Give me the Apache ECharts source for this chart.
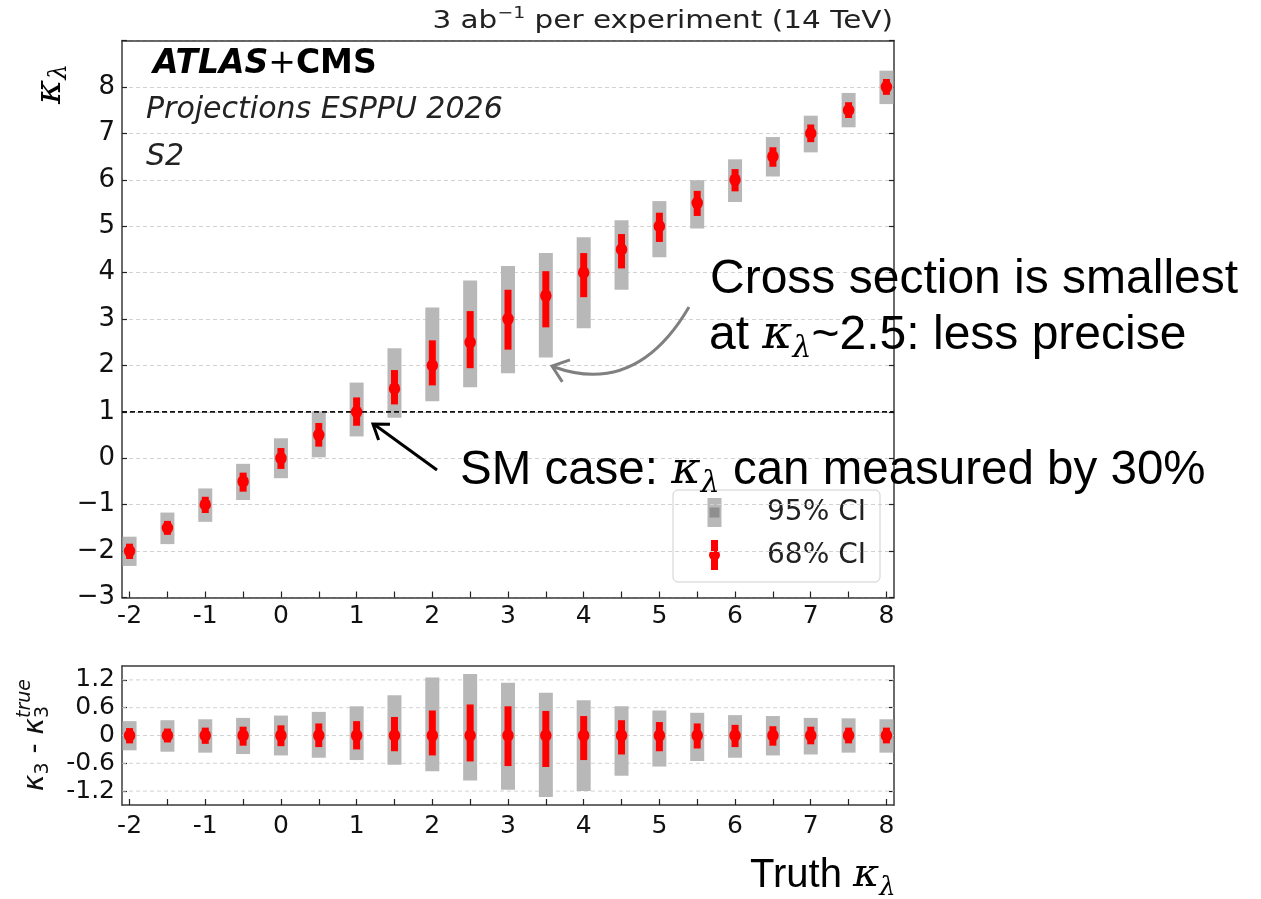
<!DOCTYPE html>
<html><head><meta charset="utf-8">
<script src="https://cdn.jsdelivr.net/npm/echarts@6/dist/echarts.min.js"></script>
<style>html,body{margin:0;padding:0;background:#fff}#c{width:1261px;height:899px}</style>
</head><body><div id="c"></div>
<script>
// ---- data ----
const truth = [-2,-1.5,-1,-0.5,0,0.5,1,1.5,2,2.5,3,3.5,4,4.5,5,5.5,6,6.5,7,7.5,8];
const ci95Up   = [0.31,0.33,0.35,0.38,0.43,0.51,0.63,0.87,1.25,1.33,1.14,0.92,0.76,0.63,0.54,0.49,0.44,0.42,0.38,0.37,0.35];
const ci95Down = [0.32,0.35,0.37,0.40,0.43,0.48,0.53,0.63,0.77,0.97,1.17,1.33,1.20,0.87,0.67,0.55,0.48,0.43,0.41,0.37,0.37];
const ci68Up   = [0.16,0.15,0.17,0.19,0.22,0.26,0.31,0.40,0.54,0.67,0.63,0.53,0.42,0.33,0.29,0.26,0.23,0.20,0.19,0.17,0.17];
const ci68Down = [0.17,0.15,0.18,0.22,0.23,0.25,0.30,0.34,0.43,0.56,0.66,0.68,0.53,0.41,0.34,0.28,0.25,0.22,0.19,0.17,0.17];
const xTickValues = [-2,-1,0,1,2,3,4,5,6,7,8];
const xTickLabels = ['-2','-1','0','1','2','3','4','5','6','7','8'];
const yMainTickValues = [-3,-2,-1,0,1,2,3,4,5,6,7,8];
const yMainTickLabels = ['\u22123','\u22122','\u22121','0','1','2','3','4','5','6','7','8'];
const yDiffTickValues = [-1.2,-0.6,0,0.6,1.2];
const yDiffTickLabels = ['-1.2','-0.6','0','0.6','1.2'];
const smValue = 1;

// ---- helpers ----
const F = 'DejaVu Sans';
const AX = '#3a3a3a';
const GRAY = '#b8b8b8', RED = '#ff0000';
function lookup(vals, labels, v){ const i = vals.findIndex(t => Math.abs(t - v) < 1e-9); return i >= 0 ? labels[i] : ''; }
function rectItem(width, color){ return function(params, api){
  const x = api.value(0), lo = api.value(1), hi = api.value(2);
  const a = api.coord([x, hi]), b = api.coord([x, lo]);
  return {type:'rect', shape:{x:a[0]-width/2, y:a[1], width:width, height:b[1]-a[1]}, style:{fill:color}};
};}
function hlineItem(color, dash, width){ return function(params, api){
  const cs = params.coordSys; const y = api.coord([0, api.value(0)])[1];
  return {type:'line', shape:{x1:cs.x, y1:y, x2:cs.x+cs.width, y2:y}, style:{stroke:color, lineWidth:width, lineDash:dash}};
};}

const main95 = truth.map((t,i)=>[t, t-ci95Down[i], t+ci95Up[i]]);
const main68 = truth.map((t,i)=>[t, t-ci68Down[i], t+ci68Up[i]]);
const mainC  = truth.map(t=>[t, t]);
const diff95 = truth.map((t,i)=>[t, -ci95Down[i], ci95Up[i]]);
const diff68 = truth.map((t,i)=>[t, -ci68Down[i], ci68Up[i]]);
const diffC  = truth.map(t=>[t, 0]);

function xBottom(g, margin){ return {type:'value', gridIndex:g, min:-2.1, max:8.1, position:'bottom',
  axisLine:{show:true, onZero:false, lineStyle:{color:AX, width:1.5}},
  axisTick:{show:true, inside:true, length:6, customValues:truth, lineStyle:{color:'#222', width:1.2}},
  axisLabel:{show:true, customValues:xTickValues, formatter:v=>lookup(xTickValues,xTickLabels,v), fontFamily:F, fontSize:25, color:'#111', margin:margin},
  splitLine:{show:false}}; }
function xTop(g){ return {type:'value', gridIndex:g, min:-2.1, max:8.1, position:'top',
  axisLine:{show:true, onZero:false, lineStyle:{color:AX, width:1.5}}, axisTick:{show:false}, axisLabel:{show:false}, splitLine:{show:false}}; }

const ctx = document.createElement('canvas').getContext('2d');
function tw(s, font){ ctx.font = font; return ctx.measureText(s).width; }

// bottom y-axis label pieces
const fK = 'italic 28px "DejaVu Sans"', fS = '19px "DejaVu Sans"', fN = '28px "DejaVu Sans"', fT = 'italic 19px "DejaVu Sans"';
const wK = tw('\u03ba', fK), w3 = tw('3', fS), wM = tw(' - ', fN), wT = tw('true', fT);
const total = wK + w3 + wM + wK + Math.max(w3, wT);
function tx(x, y, s, font){ return {type:'text', x:x, y:y, style:{text:s, font:font, fill:'#111', align:'left', verticalAlign:'middle'}}; }
const diffLabel = {type:'group', x:36, y:735 + total/2, rotation:Math.PI/2, z:100, children:[
  tx(0, 0, '\u03ba', fK),
  tx(wK, 7, '3', fS),
  tx(wK+w3, 0, ' - ', fN),
  tx(wK+w3+wM, 0, '\u03ba', fK),
  tx(wK+w3+wM+wK, 7, '3', fS),
  tx(wK+w3+wM+wK, -11, 'true', fT)
]};

function head(tip, from, len, ang){
  const dx = from[0]-tip[0], dy = from[1]-tip[1], L = Math.hypot(dx,dy), ux = dx/L, uy = dy/L;
  const r = a => [tip[0] + len*(ux*Math.cos(a) - uy*Math.sin(a)), tip[1] + len*(ux*Math.sin(a) + uy*Math.cos(a))];
  const a = ang*Math.PI/180;
  return [r(a), tip, r(-a)];
}

const kRich = (size, subSize, lh, sublh) => ({
  k:{fontFamily:'DejaVu Serif', fontStyle:'italic', fontSize:size, lineHeight:lh, fill:'#000'},
  s:{fontFamily:'DejaVu Serif', fontStyle:'italic', fontSize:subSize, lineHeight:sublh, verticalAlign:'bottom', fill:'#000'}
});

const annFont = 'Liberation Sans';
const graphics = [
  // top title
  {type:'text', x:893, y:21, scaleX:1.18, z:100, style:{text:'3 ab{sup|\u22121} per experiment (14 TeV)', fontFamily:F, fontSize:25, fill:'#222', align:'right', verticalAlign:'middle', lineHeight:30,
    rich:{sup:{fontFamily:F, fontSize:16, verticalAlign:'top', lineHeight:26, fill:'#222'}}}},
  {type:'text', x:153, y:64, z:100, style:{text:'{a|ATLAS}{p|+}{b|CMS}', align:'left', verticalAlign:'middle',
    rich:{a:{fontFamily:F, fontWeight:'bold', fontStyle:'italic', fontSize:33, fill:'#000'}, p:{fontFamily:F, fontSize:33, fill:'#000'}, b:{fontFamily:F, fontWeight:'bold', fontSize:33, fill:'#000'}}}},
  {type:'text', x:146, y:110, z:100, style:{text:'Projections ESPPU 2026', fontFamily:F, fontStyle:'italic', fontSize:30, fill:'#222', align:'left', verticalAlign:'middle'}},
  {type:'text', x:146, y:157, z:100, style:{text:'S2', fontFamily:F, fontStyle:'italic', fontSize:30, fill:'#222', align:'left', verticalAlign:'middle'}},
  // y label main
  {type:'text', x:50, y:84, rotation:Math.PI/2, z:100, style:{text:'{k|\u03ba}{s|\u03bb}', align:'center', verticalAlign:'middle', rich:kRich(37, 25, 44, 30)}},
  diffLabel,
  // x label
  {type:'text', x:750, y:876, z:100, style:{text:'{t|Truth }{k|\u03ba}{s|\u03bb}', align:'left', verticalAlign:'middle',
    rich:Object.assign({t:{fontFamily:annFont, fontSize:40, lineHeight:50, fill:'#000'}}, kRich(40, 26, 50, 30))}},
  // legend
  {type:'group', z:90, children:[
    {type:'rect', shape:{x:673, y:490, width:207, height:92, r:5}, style:{fill:'rgba(255,255,255,0.85)', stroke:'#cfcfcf', lineWidth:1}},
    {type:'rect', shape:{x:707.5, y:498, width:14, height:29}, style:{fill:GRAY}},
    {type:'rect', shape:{x:709.5, y:507.5, width:10, height:10}, style:{fill:'#8f8f8f'}},
    {type:'rect', shape:{x:711, y:540, width:7, height:30}, style:{fill:RED}},
    {type:'circle', shape:{cx:714.5, cy:555, r:5.5}, style:{fill:RED}},
    {type:'text', x:767, y:513, style:{text:'95% CI', fontFamily:F, fontSize:28, fill:'#222', align:'left', verticalAlign:'middle'}},
    {type:'text', x:767, y:556, style:{text:'68% CI', fontFamily:F, fontSize:28, fill:'#222', align:'left', verticalAlign:'middle'}}
  ]},
  // annotations
  {type:'text', x:710, y:280, z:110, style:{text:'Cross section is smallest', fontFamily:annFont, fontSize:48, fill:'#000', align:'left', verticalAlign:'middle'}},
  {type:'text', x:709, y:336, z:110, style:{text:'at {k|\u03ba}{s|\u03bb}~2.5: less precise', fontFamily:annFont, fontSize:48, lineHeight:56, fill:'#000', align:'left', verticalAlign:'middle', rich:kRich(46, 30, 56, 30)}},
  {type:'text', x:460, y:471, z:110, style:{text:'SM case: {k|\u03ba}{s|\u03bb} can measured by 30%', fontFamily:annFont, fontSize:47.5, lineHeight:56, fill:'#000', align:'left', verticalAlign:'middle', rich:kRich(45, 30, 56, 30)}},
  {type:'line', z:110, shape:{x1:437, y1:470, x2:375, y2:425}, style:{stroke:'#000', lineWidth:3}},
  {type:'polyline', z:110, shape:{points:head([373,424],[437,470],17,35)}, style:{stroke:'#000', lineWidth:3, fill:null}},
  {type:'bezierCurve', z:110, shape:{x1:689, y1:307, cpx1:655, cpy1:365, cpx2:610, cpy2:387, x2:554, y2:367}, style:{stroke:'#808080', lineWidth:3, fill:null}},
  {type:'polyline', z:110, shape:{points:head([552,366],[610,386],19,38)}, style:{stroke:'#808080', lineWidth:3, fill:null}}
];

const option = {
  animation:false,
  backgroundColor:'#fff',
  grid:[
    {left:122, top:40.5, width:772, height:557, outerBoundsMode:'none'},
    {left:122, top:666, width:772, height:139, outerBoundsMode:'none'}
  ],
  xAxis:[ xBottom(0, 6), xTop(0), xBottom(1, 9), xTop(1) ],
  yAxis:[
    {type:'value', gridIndex:0, min:-3, max:9, interval:1, position:'left',
      axisLine:{show:true, onZero:false, lineStyle:{color:AX, width:1.5}},
      axisTick:{show:true, inside:true, length:5, lineStyle:{color:'#222', width:1.2}},
      axisLabel:{formatter:v=>lookup(yMainTickValues,yMainTickLabels,v), fontFamily:F, fontSize:26, color:'#111', margin:7},
      splitLine:{show:true, lineStyle:{color:'#d2d2d2', type:[4,3], width:1}}},
    {type:'value', gridIndex:0, min:-3, max:9, interval:1, position:'right',
      axisLine:{show:true, onZero:false, lineStyle:{color:AX, width:1.5}},
      axisTick:{show:true, inside:true, length:5, lineStyle:{color:'#222', width:1.2}},
      axisLabel:{show:false}, splitLine:{show:false}},
    {type:'value', gridIndex:1, min:-1.5, max:1.5, position:'left',
      axisLine:{show:true, onZero:false, lineStyle:{color:AX, width:1.5}},
      axisTick:{show:true, inside:true, length:5, customValues:yDiffTickValues, lineStyle:{color:'#222', width:1.2}},
      axisLabel:{customValues:yDiffTickValues, formatter:v=>lookup(yDiffTickValues,yDiffTickLabels,v), fontFamily:F, fontSize:25, color:'#111', margin:7},
      splitLine:{show:false}},
    {type:'value', gridIndex:1, min:-1.5, max:1.5, position:'right',
      axisLine:{show:true, onZero:false, lineStyle:{color:AX, width:1.5}},
      axisTick:{show:true, inside:true, length:5, customValues:yDiffTickValues, lineStyle:{color:'#222', width:1.2}},
      axisLabel:{show:false}, splitLine:{show:false}}
  ],
  series:[
    {type:'custom', name:'95% CI', xAxisIndex:0, yAxisIndex:0, z:2, renderItem:rectItem(14, GRAY), encode:{x:0, y:[1,2]}, data:main95, silent:true},
    {type:'custom', name:'SM', xAxisIndex:0, yAxisIndex:0, z:3, renderItem:hlineItem('#111', [5,3], 1.6), data:[[smValue]], silent:true},
    {type:'custom', name:'68% CI', xAxisIndex:0, yAxisIndex:0, z:4, renderItem:rectItem(7, RED), encode:{x:0, y:[1,2]}, data:main68, silent:true},
    {type:'scatter', name:'central', xAxisIndex:0, yAxisIndex:0, z:5, symbol:'circle', symbolSize:[11.5,12.5], itemStyle:{color:RED, opacity:1}, data:mainC, silent:true},
    {type:'custom', name:'grid', xAxisIndex:2, yAxisIndex:2, z:1, renderItem:hlineItem('#d2d2d2', [4,3], 1), data:yDiffTickValues.map(v=>[v]), silent:true},
    {type:'custom', name:'95% CI d', xAxisIndex:2, yAxisIndex:2, z:2, renderItem:rectItem(14, GRAY), encode:{x:0, y:[1,2]}, data:diff95, silent:true},
    {type:'custom', name:'68% CI d', xAxisIndex:2, yAxisIndex:2, z:4, renderItem:rectItem(7, RED), encode:{x:0, y:[1,2]}, data:diff68, silent:true},
    {type:'scatter', name:'central d', xAxisIndex:2, yAxisIndex:2, z:5, symbol:'circle', symbolSize:[11.5,12.5], itemStyle:{color:RED, opacity:1}, data:diffC, silent:true}
  ],
  graphic:graphics
};
const chart = echarts.init(document.getElementById('c'));
chart.setOption(option);
</script>
</body></html>
